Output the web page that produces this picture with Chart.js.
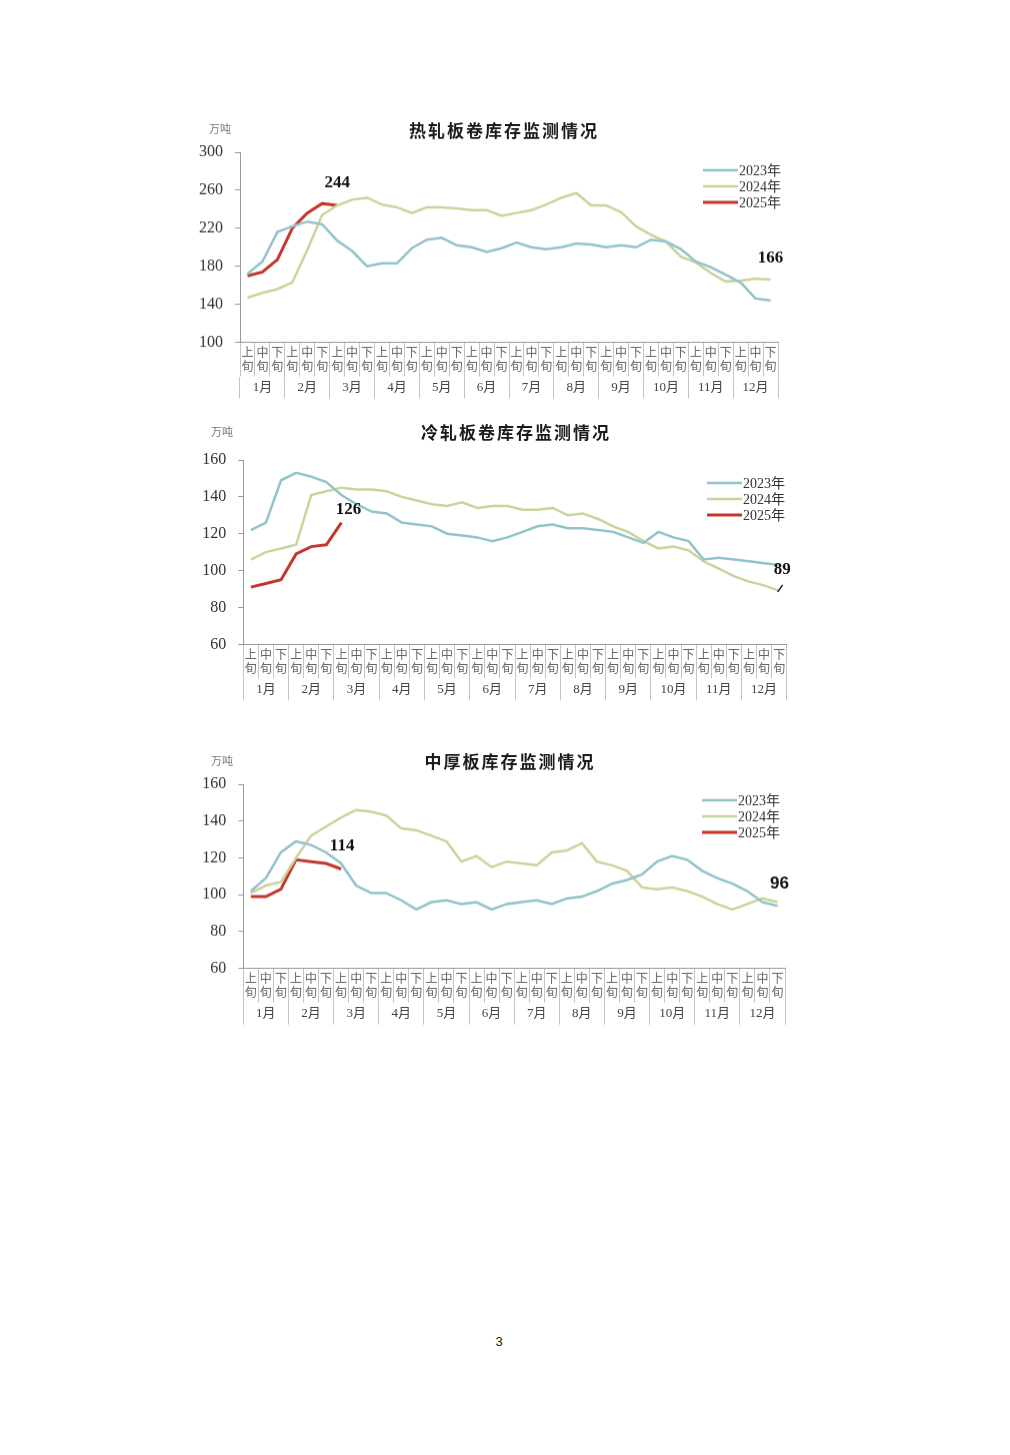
<!DOCTYPE html>
<html>
<head>
<meta charset="utf-8">
<script src="https://cdn.jsdelivr.net/npm/chart.js@4.4.1/dist/chart.umd.min.js"></script>
<style>
  body { margin: 0; background: #fff; width: 1010px; height: 1455px; position: relative; overflow: hidden; }
  .box { position: absolute; }
  #page { position: absolute; left: -6px; width: 1010px; top: 1334px; text-align: center;
          font: 13px 'Liberation Sans', sans-serif; color: #222; }
</style>
</head>
<body>
<div class="box" id="b1"><canvas id="hot"></canvas></div>
<div class="box" id="b2"><canvas id="cold"></canvas></div>
<div class="box" id="b3"><canvas id="plate"></canvas></div>
<div id="page">3</div>
<script>
// ---- data ----
const xunLabels = [['上', '旬'], ['中', '旬'], ['下', '旬']];
const months = ['1月', '2月', '3月', '4月', '5月', '6月', '7月', '8月', '9月', '10月', '11月', '12月'];
const seriesNames = ['2023年', '2024年', '2025年'];

// 热轧板卷 (万吨)
const hot2023 = [172, 185, 216, 222, 227, 224, 207, 196, 180, 183, 183, 199, 208, 210, 202, 200, 195, 199,
                 205, 200, 198, 200, 204, 203, 200, 202, 200, 208, 206, 198, 185, 179, 171, 163, 146, 144];
const hot2024 = [147, 152, 156, 163, 197, 234, 244, 250, 252, 245, 242, 236, 242, 242, 241, 239, 239, 233,
                 236, 239, 245, 252, 257, 244, 244, 237, 222, 213, 206, 190, 184, 173, 164, 165, 167, 166];
const hot2025 = [170, 174, 187, 220, 236, 246, 244];

// 冷轧板卷
const cold2023 = [122, 126, 149, 153, 151, 148, 141, 136, 132, 131, 126, 125, 124, 120, 119, 118, 116, 118,
                  121, 124, 125, 123, 123, 122, 121, 118, 115, 121, 118, 116, 106, 107, 106, 105, 104, 103];
const cold2024 = [106, 110, 112, 114, 141, 143, 145, 144, 144, 143, 140, 138, 136, 135, 137, 134, 135, 135,
                  133, 133, 134, 130, 131, 128, 124, 121, 116, 112, 113, 111, 105, 101, 97, 94, 92, 89];
const cold2025 = [91, 93, 95, 109, 113, 114, 126];

// 中厚板
const plate2023 = [102, 109, 123, 129, 127, 123, 117, 105, 101, 101, 97, 92, 96, 97, 95, 96, 92, 95,
                   96, 97, 95, 98, 99, 102, 106, 108, 111, 118, 121, 119, 113, 109, 106, 102, 96, 94];
const plate2024 = [101, 105, 107, 120, 132, 137, 142, 146, 145, 143, 136, 135, 132, 129, 118, 121, 115, 118,
                   117, 116, 123, 124, 128, 118, 116, 113, 104, 103, 104, 102, 99, 95, 92, 95, 98, 96];
const plate2025 = [99, 99, 103, 119, 118, 117, 114];

// ---- style ----
const colors = ['#93c3cb', '#cad49c', '#c4382c'];
const widths = [2.5, 2.5, 3];
const serif = "'Liberation Serif', 'Noto Sans CJK SC', serif";
const cjk = "'Noto Sans CJK SC', sans-serif";

// 36 旬 labels, one per slot
const catLabels = [];
months.forEach(function () { xunLabels.forEach(function (l) { catLabels.push(l); }); });

// draws title, unit, legend and end labels
const deco = {
  id: 'deco',
  afterDraw(chart, args, o) {
    const ctx = chart.ctx;
    const L = o.layout;
    ctx.save();
    ctx.textBaseline = 'middle';

    ctx.font = 'bold 17px ' + cjk;
    ctx.letterSpacing = '2px';
    ctx.fillStyle = '#1a1a1a';
    ctx.textAlign = 'center';
    ctx.fillText(o.title, L.titleX - L.left + 1, L.titleY - L.top);
    ctx.letterSpacing = '0px';

    ctx.font = '11px ' + cjk;
    ctx.fillStyle = '#777';
    ctx.fillText('万吨', L.unitX - L.left, L.unitY - L.top);

    // legend
    ctx.textAlign = 'left';
    ctx.font = '14px ' + serif;
    chart.data.datasets.forEach(function (ds, k) {
      const y = L.legY - L.top + k * 16;
      const x = L.legX - L.left;
      ctx.strokeStyle = ds.borderColor;
      ctx.lineWidth = ds.borderWidth;
      ctx.beginPath();
      ctx.moveTo(x, y);
      ctx.lineTo(x + 35, y);
      ctx.stroke();
      ctx.fillStyle = '#333';
      ctx.fillText(ds.label, x + 36, y + 1);
    });

    // end-of-series value labels
    ctx.textAlign = 'center';
    o.notes.forEach(function (n) {
      const pt = chart.getDatasetMeta(n.ds).data[n.i];
      const v = chart.data.datasets[n.ds].data[n.i];
      ctx.font = n.font;
      ctx.fillStyle = '#111';
      ctx.fillText(String(v), pt.x + n.dx, pt.y + n.dy);
      if (n.leader) {
        ctx.strokeStyle = '#222';
        ctx.lineWidth = 1.5;
        ctx.beginPath();
        ctx.moveTo(pt.x - 1.5, pt.y + 1);
        ctx.lineTo(pt.x + 3.5, pt.y - 6);
        ctx.stroke();
      }
    });
    ctx.restore();
  }
};

function makeChart(id, boxId, title, series, yMin, yMax, L, notes) {
  const catH = 34, monthH = 22;
  const h = L.plotBottom + catH + monthH + 2 - L.top;
  const box = document.getElementById(boxId);
  box.style.left = L.left + 'px';
  box.style.top = L.top + 'px';
  box.style.width = L.width + 'px';
  box.style.height = h + 'px';

  new Chart(document.getElementById(id), {
    type: 'line',
    data: {
      labels: catLabels,
      datasets: series.map(function (d, k) {
        return {
          label: seriesNames[k],
          data: d,
          borderColor: colors[k],
          backgroundColor: colors[k],
          borderWidth: widths[k],
          pointRadius: 0,
          tension: 0,
          xAxisID: 'x'
        };
      })
    },
    options: {
      responsive: true,
      maintainAspectRatio: false,
      animation: false,
      layout: { padding: { top: L.plotTop - L.top, right: L.left + L.width - L.plotRight, bottom: 2, left: 0 } },
      plugins: {
        legend: { display: false },
        tooltip: { enabled: false },
        deco: { title: title, layout: L, notes: notes }
      },
      scales: {
        x: {
          offset: true,
          weight: 0,
          grid: { offset: true, drawOnChartArea: false, tickLength: catH, color: '#c4c4c4' },
          border: { color: '#9a9a9a' },
          ticks: { autoSkip: false, maxRotation: 0, padding: -catH + 3, color: '#666',
                   font: { family: cjk, size: 12, lineHeight: 1.17 } },
          afterFit(s) { s.height = catH; }
        },
        x2: {
          type: 'category',
          labels: months,
          position: 'bottom',
          offset: true,
          weight: 1,
          grid: { offset: true, drawOnChartArea: false, tickLength: monthH, color: '#c4c4c4' },
          border: { display: false },
          ticks: { autoSkip: false, maxRotation: 0, padding: -monthH + 4, color: '#444',
                   font: { family: serif, size: 13, lineHeight: 1.1 } },
          afterFit(s) { s.height = monthH; }
        },
        y: {
          min: yMin,
          max: yMax,
          ticks: { stepSize: (yMax - yMin) / 5, padding: 12, color: '#333', font: { family: serif, size: 16 } },
          grid: { drawOnChartArea: false, tickLength: 5, color: '#9a9a9a' },
          border: { color: '#9a9a9a' },
          afterFit(s) { s.width = L.plotLeft - L.left; }
        }
      }
    },
    plugins: [deco]
  });
}

const boldSerif = 'bold 17px ' + serif;

makeChart('hot', 'b1', '热轧板卷库存监测情况', [hot2023, hot2024, hot2025], 100, 300,
  { left: 190, top: 110, width: 610, plotTop: 152, plotBottom: 341.5, plotLeft: 240, plotRight: 778,
    titleX: 503, titleY: 131, unitX: 220, unitY: 129, legX: 703, legY: 170 },
  [{ ds: 2, i: 6, dx: 0, dy: -22, font: boldSerif }, { ds: 1, i: 35, dx: 0, dy: -21, font: boldSerif }]);

makeChart('cold', 'b2', '冷轧板卷库存监测情况', [cold2023, cold2024, cold2025], 60, 160,
  { left: 190, top: 415, width: 610, plotTop: 460, plotBottom: 644.3, plotLeft: 243.3, plotRight: 786.7,
    titleX: 515, titleY: 433, unitX: 222, unitY: 432, legX: 707, legY: 483 },
  [{ ds: 2, i: 6, dx: 7, dy: -13, font: boldSerif },
   { ds: 1, i: 35, dx: 3, dy: -21, font: boldSerif, leader: true }]);

makeChart('plate', 'b3', '中厚板库存监测情况', [plate2023, plate2024, plate2025], 60, 160,
  { left: 190, top: 745, width: 610, plotTop: 784, plotBottom: 967.7, plotLeft: 243.3, plotRight: 785,
    titleX: 509, titleY: 762, unitX: 222, unitY: 761, legX: 702, legY: 800 },
  [{ ds: 2, i: 6, dx: 1, dy: -23, font: boldSerif },
   { ds: 1, i: 35, dx: 2, dy: -18, font: "bold 17px 'Liberation Sans', sans-serif" }]);
</script>
</body>
</html>
